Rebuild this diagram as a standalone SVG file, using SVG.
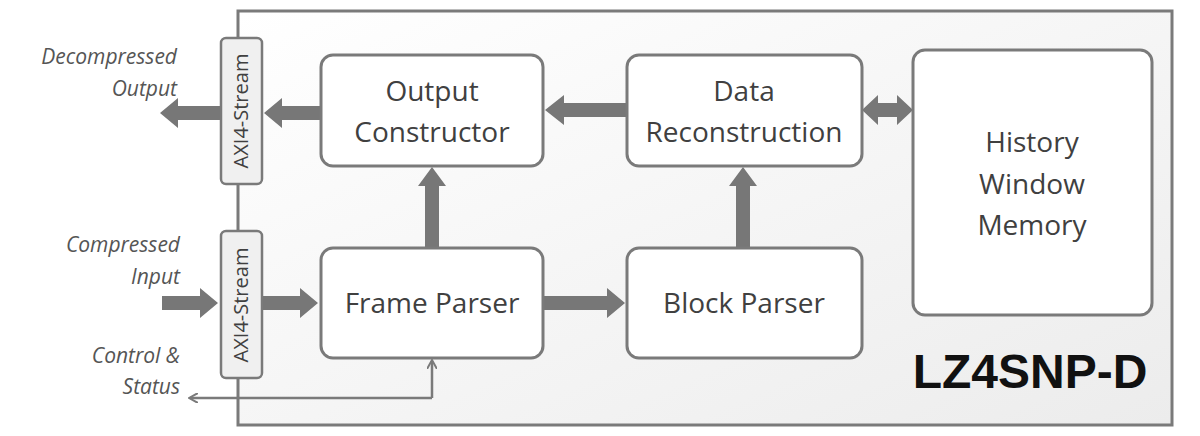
<svg xmlns="http://www.w3.org/2000/svg" width="1200" height="436" viewBox="0 0 1200 436">
<defs>
<linearGradient id="bg" x1="0" y1="0" x2="1" y2="1"><stop offset="0" stop-color="#ffffff"/><stop offset="1" stop-color="#ececec"/></linearGradient>
<marker id="thin" markerWidth="10" markerHeight="10" refX="8" refY="5" orient="auto" markerUnits="userSpaceOnUse"><path d="M0,0 L9,5 L0,10" fill="none" stroke="#7a7a7a" stroke-width="2"/></marker>
</defs>
<style>
.box{fill:#fff;stroke:#7a7a7a;stroke-width:3}
.axi{fill:#f0f0f0;stroke:#7a7a7a;stroke-width:2.5}
.t{font-family:"Open Sans","Liberation Sans",sans-serif;font-size:28px;fill:#404040;text-anchor:middle}
.lbl{font-family:"Open Sans","Liberation Sans",sans-serif;font-size:21px;font-style:italic;fill:#555;text-anchor:end}
.ax{font-family:"Open Sans","Liberation Sans",sans-serif;font-size:20px;fill:#404040;text-anchor:middle}
.arr{fill:#777}
</style>
<rect x="238" y="11" width="934" height="414" fill="url(#bg)" stroke="#7a7a7a" stroke-width="3"/>
<g id="connectors">
<path class="arr" d="M220,106 H178 V98 L160,113 L178,128 V120 H220 Z"/>
<path class="arr" d="M320,106 H282 V98 L264,113 L282,128 V120 H320 Z"/>
<path class="arr" d="M627,103 H564 V95 L545,110 L564,125 V117 H627 Z"/>
<path class="arr" d="M878,103 H897 V95 L913,110 L897,125 V117 H878 V125 L862,110 L878,95 Z"/>
<path class="arr" d="M425,248 V186 H418 L432,167 L446,186 H439 V248 Z"/>
<path class="arr" d="M736,248 V186 H729 L743,167 L757,186 H750 V248 Z"/>
<path class="arr" d="M162,296 H200 V288 L218,303 L200,318 V310 H162 Z"/>
<path class="arr" d="M262,296 H300 V288 L318,303 L300,318 V310 H262 Z"/>
<path class="arr" d="M543,296 H607 V288 L625,303 L607,318 V310 H543 Z"/>
<polyline points="432,398 432,361" fill="none" stroke="#7a7a7a" stroke-width="2.5" marker-end="url(#thin)"/>
<polyline points="432,398 190,398" fill="none" stroke="#7a7a7a" stroke-width="2.5" marker-end="url(#thin)"/>
</g>
<g id="axi-out"><rect class="axi" x="221" y="38" width="41" height="146" rx="5"/><text class="ax" transform="translate(248,111) rotate(-90)">AXI4-Stream</text></g>
<g id="axi-in"><rect class="axi" x="221" y="231" width="41" height="147" rx="5"/><text class="ax" transform="translate(248,305) rotate(-90)">AXI4-Stream</text></g>
<g id="output-constructor"><rect class="box" x="321" y="55" width="222" height="111" rx="12"/><text class="t" x="432" y="101">Output</text><text class="t" x="432" y="142">Constructor</text></g>
<g id="data-reconstruction"><rect class="box" x="627" y="55" width="235" height="111" rx="12"/><text class="t" x="744" y="101">Data</text><text class="t" x="744" y="142">Reconstruction</text></g>
<g id="history"><rect class="box" x="913" y="50" width="239" height="265" rx="12"/><text class="t" x="1032" y="152">History</text><text class="t" x="1032" y="194">Window</text><text class="t" x="1032" y="235">Memory</text></g>
<g id="frame-parser"><rect class="box" x="321" y="248" width="222" height="110" rx="12"/><text class="t" x="432" y="313">Frame Parser</text></g>
<g id="block-parser"><rect class="box" x="627" y="248" width="235" height="110" rx="12"/><text class="t" x="744" y="313">Block Parser</text></g>
<text class="lbl" x="177" y="64">Decompressed</text>
<text class="lbl" x="177" y="96">Output</text>
<text class="lbl" x="180" y="252">Compressed</text>
<text class="lbl" x="180" y="284">Input</text>
<text class="lbl" x="180" y="363">Control &amp;</text>
<text class="lbl" x="180" y="394">Status</text>
<text x="1030" y="388" font-family="'Liberation Sans',Arial,sans-serif" font-weight="bold" font-size="48" fill="#111" text-anchor="middle">LZ4SNP-D</text>
</svg>
